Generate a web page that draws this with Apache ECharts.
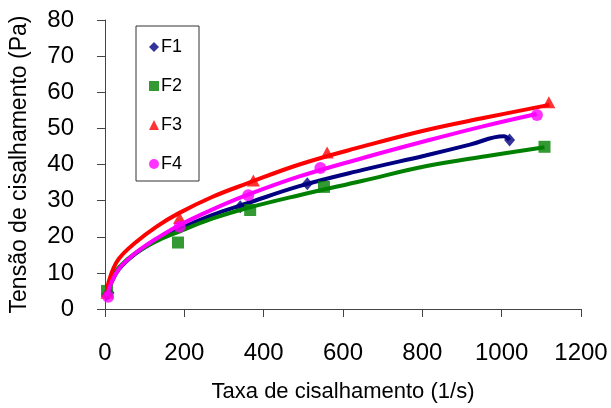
<!DOCTYPE html>
<html>
<head>
<meta charset="utf-8">
<script src="https://cdn.jsdelivr.net/npm/echarts@6/dist/echarts.min.js"></script>
<style>
html,body{margin:0;padding:0;background:#fff;}
#chart{width:611px;height:408px;}
</style>
</head>
<body>
<div id="chart"></div>
<script>
// Axis ticks
const xTicks = [0, 200, 400, 600, 800, 1000, 1200];
const yTicks = [0, 10, 20, 30, 40, 50, 60, 70, 80];
const seriesNames = ['F1', 'F2', 'F3', 'F4'];

// Measured points (shear rate 1/s, shear stress Pa)
const f1X = [5, 10, 341, 510, 1020];
const f1Y = [4.0, 4.5, 28.3, 34.7, 46.8];
const f2X = [5, 184, 366, 552, 1108];
const f2Y = [5.0, 18.4, 27.4, 33.8, 44.9];
const f3X = [5, 188, 374, 560, 1119];
const f3Y = [4.5, 25.2, 35.6, 43.3, 57.2];
const f4X = [8, 188, 361, 543, 1089];
const f4Y = [3.4, 22.8, 31.5, 39.0, 53.7];

// Curves
const c1X = [5, 15, 35, 77, 130, 184, 270, 357, 490, 650, 808, 920, 1005, 1020];
const c1Y = [3.5, 7.0, 11.0, 15.3, 19.0, 22.0, 26.0, 29.2, 34.0, 38.5, 42.5, 45.5, 47.8, 46.8];
const c2X = [5, 15, 35, 77, 130, 184, 270, 357, 490, 650, 808, 960, 1108];
const c2Y = [5.0, 8.0, 11.5, 15.5, 18.8, 21.3, 25.0, 27.9, 31.5, 35.5, 39.5, 42.3, 44.8];
const c3X = [5, 15, 35, 77, 130, 184, 270, 357, 490, 650, 808, 960, 1120];
const c3Y = [5.5, 9.5, 13.9, 18.4, 22.8, 26.4, 31.0, 34.7, 40.0, 45.0, 49.5, 53.0, 56.5];
const c4X = [5, 15, 35, 77, 130, 184, 270, 357, 490, 650, 808, 950, 1088];
const c4Y = [3.5, 7.0, 11.1, 15.5, 19.5, 23.0, 27.5, 31.5, 36.7, 41.8, 46.5, 50.5, 54.0];

const colors = ['#000080', '#008000', '#ff0000', '#ff00ff'];
const symbols = ['diamond', 'rect', 'triangle', 'circle'];
const symbolSizes = [[11, 13], 12, [13, 12], 12];

const zip = (xs, ys) => xs.map((x, i) => [x, ys[i]]);
const pts = [zip(f1X, f1Y), zip(f2X, f2Y), zip(f3X, f3Y), zip(f4X, f4Y)];
const curves = [zip(c1X, c1Y), zip(c2X, c2Y), zip(c3X, c3Y), zip(c4X, c4Y)];

const font = '"Liberation Sans", Arial, sans-serif';
const series = [];
seriesNames.forEach((n, i) => {
  series.push({
    name: n + ' curve', type: 'line', data: curves[i], smooth: 0.4,
    showSymbol: false, symbol: 'none', silent: true,
    lineStyle: { color: colors[i], width: 4 }, z: 2 + i * 2
  });
  series.push({
    name: n, type: 'scatter', data: pts[i], symbol: symbols[i],
    symbolSize: symbolSizes[i], itemStyle: { color: colors[i] }, z: 3 + i * 2
  });
});

const chart = echarts.init(document.getElementById('chart'), null, { renderer: 'canvas' });
chart.setOption({
  animation: false,
  backgroundColor: '#ffffff',
  textStyle: { fontFamily: font },
  grid: { left: 97.5, right: 30, top: 20, bottom: 94, containLabel: false },
  legend: {
    data: seriesNames.map((n, i) => ({ name: n, icon: symbols[i] })),
    orient: 'vertical', left: 136, top: 26,
    itemWidth: 10, itemHeight: 10, itemGap: 21,
    padding: [12, 17, 8, 13],
    borderColor: '#333', borderWidth: 1,
    textStyle: { fontFamily: font, fontSize: 18, color: '#000', padding: [0, 0, 0, -3] }
  },
  xAxis: {
    type: 'value', min: 0, max: 1200, interval: 200,
    name: 'Taxa de cisalhamento (1/s)', nameLocation: 'middle', nameGap: 72,
    nameTextStyle: { fontFamily: font, fontSize: 22, color: '#000' },
    axisLine: { show: true, lineStyle: { color: '#444', width: 1 } },
    axisTick: { show: true, inside: false, length: 8, lineStyle: { color: '#444' } },
    axisLabel: { fontFamily: font, fontSize: 24, color: '#000', margin: 32,
      formatter: v => xTicks.includes(v) ? String(v) : '' },
    splitLine: { show: false }
  },
  yAxis: {
    type: 'value', min: 0, max: 80, interval: 10,
    name: 'Tensão de cisalhamento (Pa)', nameLocation: 'middle', nameGap: 74,
    nameRotate: 90,
    nameTextStyle: { fontFamily: font, fontSize: 23, color: '#000' },
    axisLine: { show: true, lineStyle: { color: '#444', width: 1 } },
    axisTick: { show: true, inside: false, length: 8, lineStyle: { color: '#444' } },
    axisLabel: { fontFamily: font, fontSize: 24, color: '#000', margin: 31,
      formatter: v => yTicks.includes(v) ? String(v) : '' },
    splitLine: { show: false }
  },
  series: series
});
</script>
</body>
</html>
